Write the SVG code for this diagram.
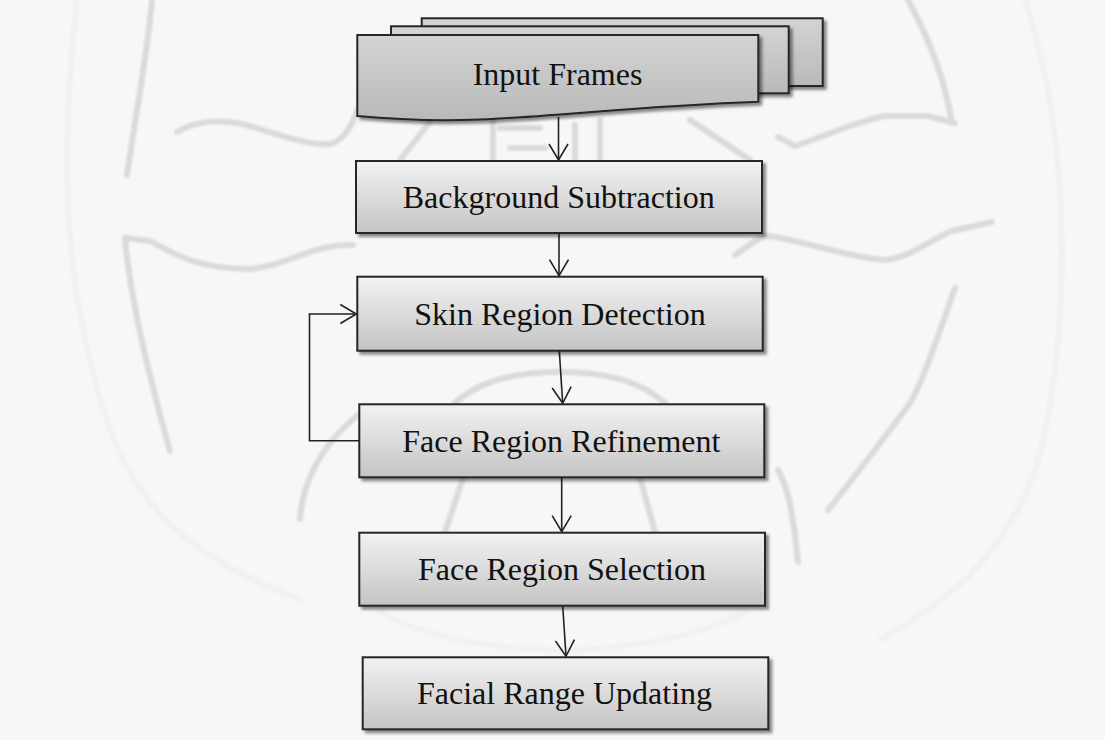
<svg xmlns="http://www.w3.org/2000/svg" width="1105" height="740" viewBox="0 0 1105 740">
  <style>
    .wm { fill: none; stroke: #dadada; stroke-width: 6; stroke-linecap: round; stroke-linejoin: round; }
    .wm-faint { fill: none; stroke: #f1f1f1; stroke-width: 6; stroke-linecap: round; }
    .box { fill: url(#boxFill); stroke: #262626; stroke-width: 2; filter: url(#shadow); }
    .sheet { fill: url(#sheetFill); stroke: #262626; stroke-width: 2; filter: url(#shadow); }
    .label { font-family: "Liberation Serif", "Times New Roman", serif; font-size: 32px; fill: #111; text-anchor: middle; }
    .conn { fill: none; stroke: #222; stroke-width: 1.6; }
  </style>
  <defs>
    <linearGradient id="boxFill" x1="0" y1="0" x2="0" y2="1">
      <stop offset="0" stop-color="#f2f2f2"/>
      <stop offset="1" stop-color="#c4c4c4"/>
    </linearGradient>
    <linearGradient id="sheetFill" x1="0" y1="0" x2="0" y2="1">
      <stop offset="0" stop-color="#d4d4d4"/>
      <stop offset="1" stop-color="#b9b9b9"/>
    </linearGradient>
    <filter id="shadow" x="-5%" y="-10%" width="115%" height="130%">
      <feDropShadow dx="3" dy="3" stdDeviation="1.4" flood-color="#000" flood-opacity="0.45"/>
    </filter>
    <filter id="soft" x="-5%" y="-5%" width="110%" height="110%">
      <feGaussianBlur stdDeviation="0.8"/>
    </filter>
    <marker id="open" markerUnits="userSpaceOnUse" markerWidth="20" markerHeight="22" viewBox="-17 -11 19 22" refX="0" refY="0" orient="auto">
      <path d="M-16,-9.5 L0,0 L-16,9.5" fill="none" stroke="#222" stroke-width="1.6"/>
    </marker>
  </defs>

  <!-- page -->
  <rect x="0" y="0" width="1105" height="740" fill="#f7f7f7"/>

  <!-- faint seal printed behind the chart -->
  <g id="watermark" filter="url(#soft)">
    <path class="wm-faint" d="M77,0 C60,150 60,300 117,448 C150,520 200,560 300,600"/>
    <path class="wm-faint" d="M1025,0 C1075,150 1070,350 1035,472 C1000,560 950,600 880,640"/>
    <path class="wm" d="M152,0 C148,50 138,100 127,175"/>
    <path class="wm" d="M177,132 C200,118 230,120 253,127 C280,135 310,146 330,144 C345,140 352,125 358,108"/>
    <path class="wm" d="M125,238 L150,241 C175,255 200,269 250,269 C290,265 315,243 353,245"/>
    <path class="wm" d="M125,238 C130,300 150,380 170,451"/>
    <path class="wm" d="M300,519 C302,490 315,450 358,415"/>
    <path class="wm" d="M908,0 C930,40 945,80 952,123"/>
    <path class="wm" d="M778,137 L795,146 C820,138 860,120 885,116 L928,116 L955,123"/>
    <path class="wm" d="M735,255 C750,245 760,236 768,236 C800,240 850,258 885,260 C910,258 930,240 952,231 L992,222"/>
    <path class="wm" d="M955,288 C940,330 920,390 908,406 C890,430 860,470 828,510"/>
    <path class="wm" d="M778,470 C786,485 792,500 798,562"/>
    <path class="wm" d="M430,122 L400,160 M493,120 V160 M500,128 H540 M510,148 H545 M575,125 V160 M600,120 V160 M690,120 L750,160"/>
    <path class="wm" d="M455,403 C480,380 520,372 560,372 C600,372 640,380 665,403"/>
    <path class="wm" d="M463,478 L445,532 M640,478 L655,532"/>
    <path class="wm-faint" d="M380,612 C430,640 500,650 560,650 C620,650 690,640 745,612"/>
  </g>

  <!-- connectors -->
  <g id="connectors">
    <path class="conn" d="M558.5,117 V160" marker-end="url(#open)"/>
    <path class="conn" d="M559,233 V275.7" marker-end="url(#open)"/>
    <path class="conn" d="M559.3,350.7 L562.7,403.3" marker-end="url(#open)"/>
    <path class="conn" d="M561.7,477.3 V531.7" marker-end="url(#open)"/>
    <path class="conn" d="M562.7,605.7 L566,656.3" marker-end="url(#open)"/>
    <path class="conn" d="M359.3,440.7 H309.5 V314 H356.3" marker-end="url(#open)"/>
  </g>

  <!-- stacked multi-document node -->
  <g id="input-frames">
    <rect class="sheet" x="421.7" y="18.3" width="401" height="67.7"/>
    <rect class="sheet" x="391" y="26.3" width="397.7" height="67"/>
    <path class="sheet" d="M357.3,35 H758.3 V101.7 C640,106 560,116 480,119.5 C440,121 400,120 357.3,116 Z"/>
    <text class="label" x="557.5" y="85">Input Frames</text>
  </g>

  <g id="background-subtraction">
    <rect class="box" x="356" y="161" width="406" height="72"/>
    <text class="label" x="558.7" y="208.3">Background Subtraction</text>
  </g>

  <g id="skin-region-detection">
    <rect class="box" x="357.3" y="276.7" width="405.4" height="74"/>
    <text class="label" x="560" y="325">Skin Region Detection</text>
  </g>

  <g id="face-region-refinement">
    <rect class="box" x="359.3" y="404.3" width="405" height="73"/>
    <text class="label" x="561.3" y="451.7">Face Region Refinement</text>
  </g>

  <g id="face-region-selection">
    <rect class="box" x="359.3" y="532.7" width="405.7" height="73"/>
    <text class="label" x="562" y="580">Face Region Selection</text>
  </g>

  <g id="facial-range-updating">
    <rect class="box" x="362.7" y="657.3" width="405.6" height="72"/>
    <text class="label" x="564.5" y="704">Facial Range Updating</text>
  </g>
</svg>
